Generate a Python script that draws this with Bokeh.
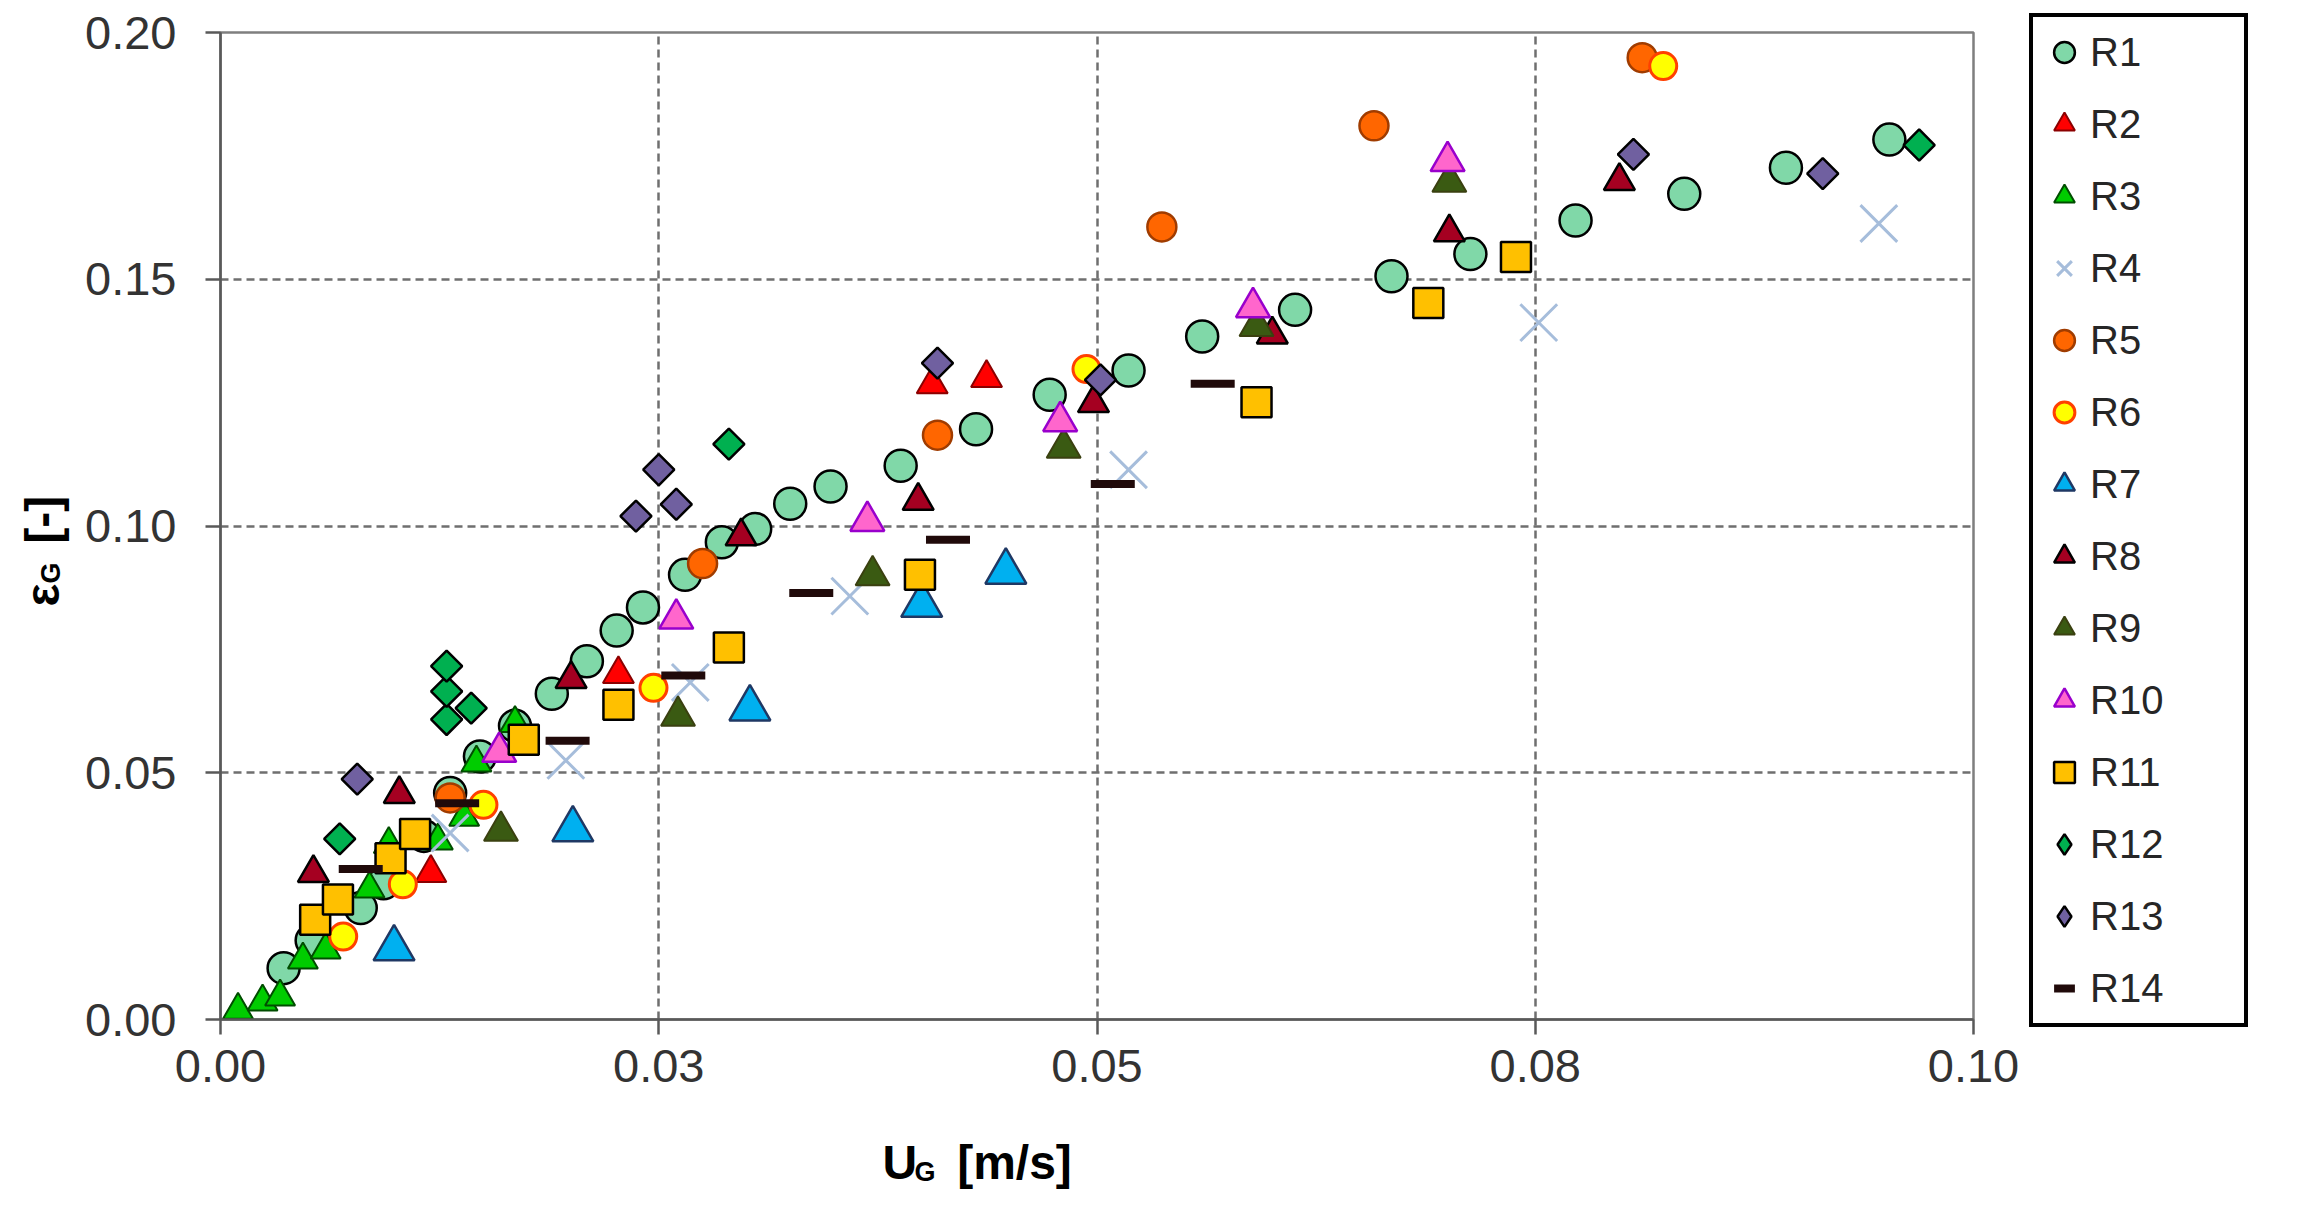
import numpy as np
from bokeh.plotting import figure
from bokeh.layouts import row
from bokeh.models import FixedTicker, Label, ColumnDataSource
from bokeh.embed import file_html
from bokeh.resources import INLINE

# ---------------- data ----------------
R1_x = [0.0036,0.0052,0.0080,0.0093,0.0116,0.0131,0.0148,0.0168,0.0189,0.0209,0.0226,0.0241,0.0265,0.0286,0.0305,0.0325,0.0348,0.0388,0.0431,0.0473,0.0518,0.0560,0.0613,0.0668,0.0713,0.0773,0.0835,0.0893,0.0952]
R1_y = [0.0104,0.0160,0.0226,0.0276,0.0372,0.0459,0.0533,0.0595,0.0660,0.0726,0.0788,0.0835,0.0901,0.0967,0.0994,0.1045,0.1080,0.1122,0.1196,0.1266,0.1315,0.1384,0.1438,0.1506,0.1551,0.1619,0.1673,0.1726,0.1783]
R2_x = [0.0120,0.0227,0.0406,0.0437]
R2_y = [0.0297,0.0700,0.1287,0.1300]
R3_x = [0.0010,0.0024,0.0034,0.0047,0.0060,0.0085,0.0096,0.0124,0.0139,0.0146,0.0168]
R3_y = [0.0019,0.0036,0.0046,0.0121,0.0141,0.0265,0.0355,0.0362,0.0410,0.0520,0.0600]
R4_x = [0.0131,0.0197,0.0268,0.0359,0.0518,0.0752,0.0946]
R4_y = [0.0378,0.0525,0.0683,0.0858,0.1114,0.1412,0.1613]
R5_x = [0.0131,0.0275,0.0409,0.0537,0.0658,0.0811]
R5_y = [0.0449,0.0924,0.1184,0.1606,0.1811,0.1949]
R6_x = [0.0070,0.0104,0.0150,0.0247,0.0494,0.0823]
R6_y = [0.0168,0.0274,0.0435,0.0672,0.1318,0.1932]
R7_x = [0.0099,0.0201,0.0302,0.0400,0.0448]
R7_y = [0.0144,0.0385,0.0630,0.0840,0.0907]
R8_x = [0.0053,0.0102,0.0200,0.0297,0.0398,0.0498,0.0600,0.0701,0.0798]
R8_y = [0.0297,0.0457,0.0690,0.0979,0.1051,0.1249,0.1388,0.1595,0.1699]
R9_x = [0.0160,0.0261,0.0372,0.0481,0.0591,0.0701]
R9_y = [0.0382,0.0615,0.0900,0.1158,0.1405,0.1697]
R10_x = [0.0159,0.0260,0.0369,0.0479,0.0589,0.0700]
R10_y = [0.0542,0.0812,0.1010,0.1212,0.1443,0.1739]
R11_x = [0.0054,0.0067,0.0097,0.0111,0.0173,0.0227,0.0290,0.0399,0.0591,0.0689,0.0739]
R11_y = [0.0202,0.0243,0.0327,0.0376,0.0567,0.0638,0.0754,0.0901,0.1251,0.1452,0.1545]
R12_x = [0.0068,0.0129,0.0129,0.0143,0.0129,0.0290,0.0969]
R12_y = [0.0366,0.0608,0.0665,0.0631,0.0716,0.1166,0.1772]
R13_x = [0.0078,0.0237,0.0250,0.0260,0.0409,0.0502,0.0806,0.0914]
R13_y = [0.0487,0.1020,0.1114,0.1044,0.1330,0.1296,0.1753,0.1714]
R14_x = [0.0080,0.0135,0.0198,0.0264,0.0337,0.0415,0.0509,0.0566]
R14_y = [0.0305,0.0438,0.0565,0.0697,0.0864,0.0972,0.1085,0.1288]

x_ticks = [0.0, 0.025, 0.05, 0.075, 0.1]
x_tick_labels = ["0.00", "0.03", "0.05", "0.08", "0.10"]
y_ticks = [0.0, 0.05, 0.10, 0.15, 0.20]
y_tick_labels = ["0.00", "0.05", "0.10", "0.15", "0.20"]

FONT = "Liberation Sans"
NB = "\u00a0"
H = 1200
BORDER_TOP, BORDER_BOTTOM = 32, 181

p = figure(width=2025, height=H, output_backend="svg", toolbar_location=None,
           x_range=(0, 0.1), y_range=(0, 0.2),
           min_border_left=220, min_border_right=52,
           min_border_top=BORDER_TOP, min_border_bottom=BORDER_BOTTOM)
p.background_fill_color = "white"
p.border_fill_color = "white"
p.outline_line_color = "#7f7f7f"
p.outline_line_width = 2.5

for ax, ticks, labels in ((p.xaxis[0], x_ticks, x_tick_labels), (p.yaxis[0], y_ticks, y_tick_labels)):
    ax.ticker = FixedTicker(ticks=ticks)
    ax.major_label_overrides = {t: l for t, l in zip(ticks, labels)}
    ax.major_label_text_font = FONT
    ax.major_label_text_font_size = "47px"
    ax.major_label_text_color = "#333333"
    ax.axis_line_color = "#595959"
    ax.axis_line_width = 2.5
    ax.major_tick_line_color = "#595959"
    ax.major_tick_line_width = 2.5
    ax.major_tick_out = 15
    ax.major_tick_in = 0
    ax.minor_tick_line_color = None
p.xaxis.major_label_standoff = 15
p.yaxis.major_label_standoff = 29

for g in (p.xgrid[0], p.ygrid[0]):
    g.grid_line_color = "#6f6f6f"
    g.grid_line_width = 2.5
    g.grid_line_dash = "8 5"
p.xgrid.ticker = FixedTicker(ticks=x_ticks)
p.ygrid.ticker = FixedTicker(ticks=y_ticks)

series = [
    ("R1", R1_x, R1_y, dict(marker="circle", size=32, fill_color="#80d8a8", line_color="black", line_width=2.5)),
    ("R2", R2_x, R2_y, dict(marker="triangle", size=31, fill_color="#ff0000", line_color="#8b0000", line_width=2)),
    ("R3", R3_x, R3_y, dict(marker="triangle", size=30, fill_color="#00cc00", line_color="#004d00", line_width=2)),
    ("R4", R4_x, R4_y, dict(marker="x", size=52, line_color="#a6bddb", line_width=3)),
    ("R5", R5_x, R5_y, dict(marker="circle", size=29, fill_color="#ff6600", line_color="#a03c00", line_width=2.5)),
    ("R6", R6_x, R6_y, dict(marker="circle", size=27, fill_color="#ffff00", line_color="#ff4000", line_width=3)),
    ("R7", R7_x, R7_y, dict(marker="triangle", size=41, fill_color="#00b0f0", line_color="#1f3864", line_width=2.5)),
    ("R8", R8_x, R8_y, dict(marker="triangle", size=31, fill_color="#a50021", line_color="black", line_width=2.5)),
    ("R9", R9_x, R9_y, dict(marker="triangle", size=34, fill_color="#3a5a12", line_color="#3a4010", line_width=2)),
    ("R10", R10_x, R10_y, dict(marker="triangle", size=34, fill_color="#ff66cc", line_color="#9900cc", line_width=2.5)),
    ("R11", R11_x, R11_y, dict(marker="square", size=30, fill_color="#ffc000", line_color="black", line_width=2.5)),
    ("R12", R12_x, R12_y, dict(marker="square", size=22, angle=np.pi / 4, fill_color="#00b050", line_color="black", line_width=2.5)),
    ("R13", R13_x, R13_y, dict(marker="square", size=22, angle=np.pi / 4, fill_color="#7060a0", line_color="black", line_width=2.5)),
    ("R14", R14_x, R14_y, dict(marker="dash", size=44, line_color="#200a0a", line_width=8)),
]
for name, xs, ys, style in series:
    src = ColumnDataSource(dict(x=xs, y=ys))
    p.scatter("x", "y", source=src, **style)

# axis titles (with subscripts) as text annotations anchored at the data origin
def add_text(text, xo, yo, size, side, angle=0.0):
    p.add_layout(Label(x=0, y=0, x_offset=xo, y_offset=yo, text=text, angle=angle,
                       text_font=FONT, text_font_style="bold", text_font_size=size,
                       text_color="black", text_align="left", text_baseline="alphabetic"), side)

add_text("U" + NB * 3 + "[m/s]", 662, -143, "48px", "below")
add_text("G", 694, -152, "27px", "below")
add_text("\u03b5" + NB * 3 + "[-]", -178, 413, "48px", "left", np.pi / 2)
add_text("G", -170, 436, "27px", "right", np.pi / 2)

# ---------------- legend panel ----------------
# the legend's own renderers reuse the series data; their ranges keep them out of view
pl = figure(width=275, height=H, output_backend="svg", toolbar_location=None,
            x_range=(10, 11), y_range=(10, 11), x_axis_location=None, y_axis_location=None,
            min_border_left=0, min_border_right=0,
            min_border_top=BORDER_TOP, min_border_bottom=BORDER_BOTTOM, outline_line_color=None)
pl.grid.visible = False
pl.background_fill_color = "white"
pl.border_fill_color = "white"
for name, xs, ys, style in series:
    st = dict(style)
    if st.get("angle") is not None:
        st.pop("angle")
        st["marker"] = "diamond"
        st["size"] = 30
    pl.scatter(x=xs, y=ys, legend_label=name, **st)

leg = pl.legend[0]
pl.center.remove(leg)
leg.location = (4, -8)
leg.orientation = "vertical"
leg.padding = 5
leg.margin = 0
leg.spacing = 12
leg.glyph_width = 52
leg.glyph_height = 60
leg.label_height = 60
leg.label_width = 149
leg.label_standoff = 0
leg.label_text_font = FONT
leg.label_text_font_size = "40px"
leg.label_text_color = "#262626"
leg.label_text_baseline = "middle"
leg.border_line_color = "black"
leg.border_line_alpha = 1.0
leg.border_line_width = 4
leg.background_fill_color = "white"
leg.background_fill_alpha = 1.0
pl.add_layout(leg, "left")

layout = row(p, pl)
open("out.html", "w").write(file_html(layout, INLINE))
